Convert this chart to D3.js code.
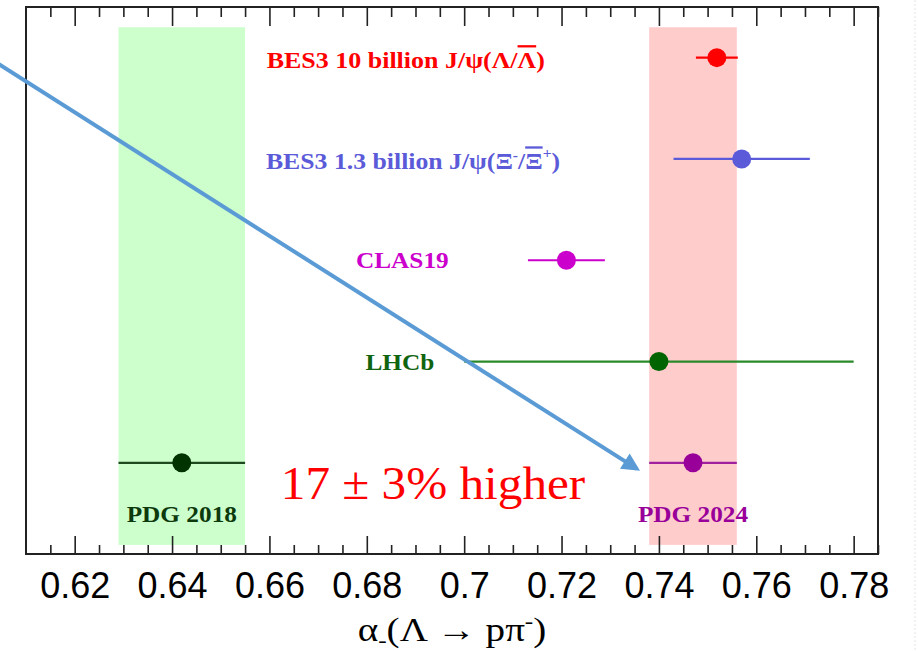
<!DOCTYPE html>
<html>
<head>
<meta charset="utf-8">
<script src="https://cdn.jsdelivr.net/npm/d3@7"></script>
<style>
  html, body { margin: 0; padding: 0; background: #fff; }
  svg { display: block; }
</style>
</head>
<body>
<div id="chart"></div>
<script>
// measurements of alpha_- (Lambda -> p pi-), top row first
const experiments = ["BES3 10 billion", "BES3 1.3 billion", "CLAS19", "LHCb", "PDG 2018", "PDG 2024"];
const values = [0.7519, 0.757, 0.721, 0.740, 0.642, 0.747];
const errors = [0.0043, 0.014, 0.0079, 0.040, 0.013, 0.009];
const rows = [0, 1, 2, 3, 4, 4];
const bands = [
  { name: "PDG 2018", lo: 0.629, hi: 0.655, color: "#ccffcc" },
  { name: "PDG 2024", lo: 0.738, hi: 0.756, color: "#ffcccc" }
];
const tickLabels = [0.62, 0.64, 0.66, 0.68, 0.7, 0.72, 0.74, 0.76, 0.78];

const pointColors = ["#ff0000", "#5b5bd9", "#cc00cc", "#006400", "#003300", "#990099"];
const lineColors = ["#ff0000", "#5b5bd9", "#cc00cc", "#2a8a2a", "#1f4a1f", "#a020a0"];
const textColors = ["#ff0000", "#5b5bd9", "#cc00cc", "#0f6410", "#0d3a0d", "#990099"];

const width = 918, height = 651;
const margin = { top: 7, right: 40, bottom: 97, left: 26 };

const svg = d3.select("#chart").append("svg")
  .attr("width", width)
  .attr("height", height);

const x = d3.scaleLinear().domain([0.61, 0.785]).range([margin.left, width - margin.right]);
const y = d3.scaleLinear().domain([-0.5, 4.9]).range([margin.top, height - margin.bottom]);

// shaded PDG bands
svg.selectAll("rect.band")
  .data(bands)
  .enter().append("rect")
  .attr("class", "band")
  .attr("x", d => x(d.lo))
  .attr("width", d => x(d.hi) - x(d.lo))
  .attr("y", y(-0.3))
  .attr("height", y(4.81) - y(-0.3))
  .attr("fill", d => d.color);

const data = experiments.map((e, i) => ({
  name: e, v: values[i], err: errors[i], row: rows[i], i: i
}));

// error bars
svg.selectAll("line.err")
  .data(data)
  .enter().append("line")
  .attr("class", "err")
  .attr("x1", d => x(d.v - d.err))
  .attr("x2", d => x(d.v + d.err))
  .attr("y1", d => y(d.row))
  .attr("y2", d => y(d.row))
  .attr("stroke", d => lineColors[d.i])
  .attr("stroke-width", 2.2);

svg.selectAll("circle.pt")
  .data(data)
  .enter().append("circle")
  .attr("class", "pt")
  .attr("cx", d => x(d.v))
  .attr("cy", d => y(d.row))
  .attr("r", 9.5)
  .attr("fill", d => pointColors[d.i]);

// labels (the original text is a bit stretched sideways)
const labelFont = "'Liberation Serif', 'Times New Roman', serif";
const labels = svg.append("g")
  .attr("font-family", labelFont)
  .attr("font-weight", "bold")
  .attr("font-size", 23)
  .attr("text-anchor", "middle");

function addLabel(i, cx, dy, sx) {
  return labels.append("text")
    .attr("transform", `translate(${cx},${y(rows[i]) + dy}) scale(${sx || 1.1},1)`)
    .attr("fill", textColors[i]);
}

let t = addLabel(0, x(0.688), 10, 1.13);
t.append("tspan").text(experiments[0] + " J/ψ(Λ/");
t.append("tspan").style("text-decoration", "overline").text("Λ");
t.append("tspan").text(")");

t = addLabel(1, x(0.6895), 10, 1.12);
t.append("tspan").text(experiments[1] + " J/ψ(Ξ");
t.append("tspan").attr("dy", -9).attr("font-size", 14).text("-");
t.append("tspan").attr("dy", 9).text("/");
t.append("tspan").style("text-decoration", "overline").text("Ξ");
t.append("tspan").attr("dy", -11).attr("font-size", 14).text("+");
t.append("tspan").attr("dy", 11).text(")");

addLabel(2, x(0.6873), 8).text(experiments[2]);
addLabel(3, x(0.6868), 8).text(experiments[3]);
addLabel(4, x(values[4]), 59).text(experiments[4]);
addLabel(5, x(values[5]), 59).text(experiments[5]);

// axes
const majorTicks = tickLabels;
const minorTicks = d3.range(0.615, 0.7851, 0.005).filter(v => majorTicks.every(m => Math.abs(m - v) > 1e-6));
const fmt = d => String(+d.toFixed(2));
const axisY = height - margin.bottom;

function drawAxis(gen, ty, vals, size, labelled) {
  const g = svg.append("g")
    .attr("transform", `translate(0,${ty})`)
    .call(gen.tickValues(vals).tickSize(size).tickSizeOuter(0)
      .tickFormat(labelled ? fmt : ""));
  g.select(".domain").remove();
  g.selectAll(".tick line").attr("stroke", "#222").attr("stroke-width", 1.6);
  return g;
}

const bottomMajor = drawAxis(d3.axisBottom(x), axisY, majorTicks, -18, true);
bottomMajor.selectAll(".tick text")
  .attr("y", 18)
  .attr("dy", "0.71em")
  .attr("fill", "#000")
  .attr("font-family", "'Liberation Sans', Arial, sans-serif")
  .attr("font-size", 36);
drawAxis(d3.axisBottom(x), axisY, minorTicks, -9, false);
drawAxis(d3.axisTop(x), margin.top, majorTicks, -19, false);
drawAxis(d3.axisTop(x), margin.top, minorTicks, -10, false);

// frame
svg.append("rect")
  .attr("x", margin.left)
  .attr("y", margin.top)
  .attr("width", width - margin.right - margin.left)
  .attr("height", axisY - margin.top)
  .attr("fill", "none")
  .attr("stroke", "#222")
  .attr("stroke-width", 2);

// axis title
const title = svg.append("text")
  .attr("transform", "translate(452,641) scale(1.15,1)")
  .attr("text-anchor", "middle")
  .attr("font-family", labelFont)
  .attr("font-size", 34)
  .attr("fill", "#000");
title.append("tspan").text("α");
title.append("tspan").attr("dy", 6).attr("font-size", 22).text("-");
title.append("tspan").attr("dy", -6).text("(Λ → pπ");
title.append("tspan").attr("dy", -13).attr("font-size", 22).text("-");
title.append("tspan").attr("dy", 13).text(")");

// annotation arrow
const arrowFrom = [0.6035, 0.037];
const arrowTo = [0.7355, 4.06];
svg.append("defs").append("marker")
  .attr("id", "head")
  .attr("viewBox", "0 0 10 10")
  .attr("refX", 8).attr("refY", 5)
  .attr("markerWidth", 5).attr("markerHeight", 4.5)
  .attr("markerUnits", "strokeWidth")
  .attr("orient", "auto")
  .append("path")
  .attr("d", "M0,0 L10,5 L0,10 Z")
  .attr("fill", "#5b9bd5");

svg.append("line")
  .attr("x1", x(arrowFrom[0])).attr("y1", y(arrowFrom[1]))
  .attr("x2", x(arrowTo[0])).attr("y2", y(arrowTo[1]))
  .attr("stroke", "#5b9bd5")
  .attr("stroke-width", 4)
  .attr("marker-end", "url(#head)");

svg.append("text")
  .attr("transform", "translate(433,499) scale(1.07,1)")
  .attr("text-anchor", "middle")
  .attr("font-family", labelFont)
  .attr("font-size", 46)
  .attr("fill", "#ff0000")
  .text("17 ± 3% higher");

// faint slide border at the right
svg.append("line")
  .attr("x1", 915).attr("x2", 915)
  .attr("y1", 0).attr("y2", height)
  .attr("stroke", "#e4e4e4")
  .attr("stroke-dasharray", "2,2");
</script>
</body>
</html>
